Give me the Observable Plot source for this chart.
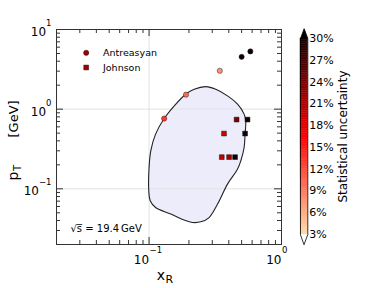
<!DOCTYPE html>
<html><head><meta charset="utf-8">
<script src="https://cdn.jsdelivr.net/npm/d3@7"></script>
<script src="https://cdn.jsdelivr.net/npm/@observablehq/plot@0.6"></script>
<style>
html,body{margin:0;padding:0;background:#fff;}
#chart{position:relative;width:374px;height:288px;font-family:"DejaVu Sans",sans-serif;}
#chart svg{position:absolute;top:0;}
</style></head><body><div id="chart"></div>
<script>
// ---- data ----
const antreasyanX   = [0.130, 0.190, 0.342, 0.500, 0.582];
const antreasyanPt  = [0.762, 1.52, 3.03, 4.54, 5.31];
const antreasyanUnc = [13, 10, 7.5, 33, 33];

const johnsonX   = [0.458, 0.554, 0.368, 0.531, 0.354, 0.402, 0.446];
const johnsonPt  = [0.740, 0.740, 0.494, 0.494, 0.250, 0.250, 0.250];
const johnsonUnc = [24, 33, 19, 33, 20, 21.5, 33];

const contourX = [0.268,0.319,0.391,0.466,0.522,0.537,0.531,0.522,0.493,0.466,0.391,0.329,0.284,0.246,0.213,0.184,0.146,0.112,0.102,0.0995,0.100,0.103,0.112,0.130,0.155,0.189,0.219];
const contourY = [1.92,1.78,1.47,1.155,0.866,0.713,0.486,0.330,0.225,0.177,0.1146,0.0643,0.0436,0.0385,0.0378,0.0405,0.0482,0.0582,0.0707,0.0944,0.185,0.300,0.486,0.762,1.10,1.54,1.78];

const xMajor = [0.1, 1];
const xMinor = [0.02,0.03,0.04,0.05,0.06,0.07,0.08,0.09,0.2,0.3,0.4,0.5,0.6,0.7,0.8,0.9];
const yMajor = [0.1, 1, 10];
const yMinor = [0.02,0.03,0.04,0.05,0.06,0.07,0.08,0.09,0.2,0.3,0.4,0.5,0.6,0.7,0.8,0.9,2,3,4,5,6,7,8,9];
const xTickExp = ["\u22121", "0"];
const yTickExp = ["\u22121", "0", "1"];
const cbTicks = [3,6,9,12,15,18,21,24,27,30];
const legendLabels = ["Antreasyan", "Johnson"];
const energyLabel = "\u221As\u0305 = 19.4\u2009GeV";

// ---- layout ----
const W = 374, H = 288, mL = 56, mR = 93, mT = 29, mB = 44;
const innerW = W - mL - mR, innerH = H - mT - mB;
const colorDef = {type: "linear", domain: [3, 16.5, 30], range: ["#fedcaa", "#ff0000", "#120000"], interpolate: "rgb", clamp: true};

const antreasyan = antreasyanX.map((x, i) => ({x, y: antreasyanPt[i], u: antreasyanUnc[i]}));
const johnson = johnsonX.map((x, i) => ({x, y: johnsonPt[i], u: johnsonUnc[i]}));
const contour = contourX.map((x, i) => ({x, y: contourY[i]}));

const cw = {"\u2212": 0.838, "0": 0.636, "1": 0.636};
const expW = s => [...s].reduce((a, c) => a + (cw[c] || 0.636), 0) * 8.5;

const tickMarks = [];
for (const [vals, len] of [[xMajor, 7], [xMinor, 4]]) {
  tickMarks.push(Plot.tickX(vals, {x: d => d, insetTop: innerH - len, stroke: "#333"}));
  tickMarks.push(Plot.tickX(vals, {x: d => d, insetBottom: innerH - len, stroke: "#333"}));
}
for (const [vals, len] of [[yMajor, 7], [yMinor, 4]]) {
  tickMarks.push(Plot.tickY(vals, {y: d => d, insetRight: innerW - len, stroke: "#333"}));
  tickMarks.push(Plot.tickY(vals, {y: d => d, insetLeft: innerW - len, stroke: "#333"}));
}

const labelMarks = [];
xMajor.forEach((v, i) => {
  labelMarks.push(Plot.text([v], {x: d => d, frameAnchor: "bottom", text: () => "10", textAnchor: "end", lineAnchor: "bottom", dy: 19.5, fontSize: 12}));
  labelMarks.push(Plot.text([v], {x: d => d, frameAnchor: "bottom", text: () => xTickExp[i], textAnchor: "start", lineAnchor: "bottom", dx: 0.5, dy: 8, fontSize: 8.5}));
});
yMajor.forEach((v, i) => {
  const e = yTickExp[i];
  labelMarks.push(Plot.text([v], {y: d => d, frameAnchor: "left", text: () => "10", textAnchor: "end", lineAnchor: "bottom", dx: -5 - expW(e), dy: 6.5, fontSize: 12}));
  labelMarks.push(Plot.text([v], {y: d => d, frameAnchor: "left", text: () => e, textAnchor: "end", lineAnchor: "bottom", dx: -5, dy: -3.5, fontSize: 8.5}));
});

const main = Plot.plot({
  width: W, height: H,
  marginLeft: mL, marginRight: mR, marginTop: mT, marginBottom: mB,
  x: {type: "log", domain: [0.02, 1], axis: null},
  y: {type: "log", domain: [0.02, 10], axis: null},
  color: colorDef,
  style: {fontFamily: "'DejaVu Sans', sans-serif", fontSize: "12px", background: "#fff", color: "#000"},
  marks: [
    Plot.line(contour, {x: "x", y: "y", curve: "catmull-rom-closed", fill: "#ececfb", stroke: "none"}),
    Plot.ruleX([0.1], {stroke: "#e2e2e2"}),
    Plot.ruleY([0.1, 1], {stroke: "#e2e2e2"}),
    Plot.line(contour, {x: "x", y: "y", curve: "catmull-rom-closed", fill: "none", stroke: "#222", strokeWidth: 1.1}),
    Plot.frame({stroke: "#333"}),
    ...tickMarks,
    ...labelMarks,
    Plot.dot(johnson, {x: "x", y: "y", fill: "u", symbol: "square", r: 2.7, stroke: "#111", strokeWidth: 0.5}),
    Plot.dot(antreasyan, {x: "x", y: "y", fill: "u", r: 2.6, stroke: "#222", strokeWidth: 0.5}),
    // legend
    Plot.dot([legendLabels[0]], {frameAnchor: "top-left", dx: 29.7, dy: 23.3, r: 2.6, fill: "#a00000", stroke: "#200", strokeWidth: 0.5}),
    Plot.dot([legendLabels[1]], {frameAnchor: "top-left", dx: 29.7, dy: 38, r: 2.7, symbol: "square", fill: "#a00000", stroke: "#200", strokeWidth: 0.5}),
    Plot.text([legendLabels[0]], {frameAnchor: "top-left", text: d => d, dx: 46.5, dy: 23.3, textAnchor: "start", lineAnchor: "middle", fontSize: 9.5}),
    Plot.text([legendLabels[1]], {frameAnchor: "top-left", text: d => d, dx: 46.5, dy: 38, textAnchor: "start", lineAnchor: "middle", fontSize: 9.5}),
    // annotation
    Plot.text([energyLabel], {frameAnchor: "bottom-left", text: d => d, dx: 14, dy: -13, textAnchor: "start", lineAnchor: "bottom", fontSize: 10}),
    // axis labels
    Plot.text(["x"], {frameAnchor: "bottom", text: d => d, dx: -4, dy: 35, textAnchor: "end", lineAnchor: "bottom", fontSize: 14}),
    Plot.text(["R"], {frameAnchor: "bottom", text: d => d, dx: -3.5, dy: 38, textAnchor: "start", lineAnchor: "bottom", fontSize: 11}),
    Plot.text(["p"], {frameAnchor: "left", text: d => d, rotate: -90, dx: -39, dy: 43.5, textAnchor: "start", lineAnchor: "bottom", fontSize: 14}),
    Plot.text(["T"], {frameAnchor: "left", text: d => d, rotate: -90, dx: -36, dy: 34, textAnchor: "start", lineAnchor: "bottom", fontSize: 10}),
    Plot.text(["[GeV]"], {frameAnchor: "left", text: d => d, rotate: -90, dx: -39, dy: 0.5, textAnchor: "start", lineAnchor: "bottom", fontSize: 13})
  ]
});

// ---- colorbar ----
const cbLo = cbTicks[0], cbHi = cbTicks[cbTicks.length - 1];
const ext = (cbHi - cbLo) * 0.05;
const step = 0.25;
const bands = d3.range(cbLo, cbHi, step);
const topTri = [[0, cbHi], [0.5, cbHi + ext], [1, cbHi]];
const botTri = [[0, cbLo], [0.5, cbLo - ext], [1, cbLo]];
const outline = [[0, cbLo], [0, cbHi], [0.5, cbHi + ext], [1, cbHi], [1, cbLo], [0.5, cbLo - ext]];

const cb = Plot.plot({
  width: 84, height: H,
  marginLeft: 10, marginRight: 66.7, marginTop: 38, marginBottom: 54,
  x: {domain: [0, 1], axis: null},
  y: {domain: [cbLo, cbHi], axis: null},
  color: colorDef,
  style: {fontFamily: "'DejaVu Sans', sans-serif", background: "transparent", color: "#000", overflow: "visible"},
  marks: [
    Plot.rect(bands, {x1: 0, x2: 1, y1: d => d, y2: d => d + step, fill: d => d + step / 2, stroke: d => d + step / 2, strokeWidth: 0.4}),
    Plot.line(topTri, {x: d => d[0], y: d => d[1], curve: "linear-closed", fill: "#000", stroke: "none"}),
    Plot.line(botTri, {x: d => d[0], y: d => d[1], curve: "linear-closed", fill: "#fff", stroke: "none"}),
    Plot.line(outline, {x: d => d[0], y: d => d[1], curve: "linear-closed", fill: "none", stroke: "#000", strokeWidth: 0.8}),
    Plot.text(cbTicks, {x: 1, y: d => d, text: d => d + "%", textAnchor: "start", lineAnchor: "middle", dx: 1.5, fontSize: 11}),
    Plot.text(["Statistical uncertainty"], {frameAnchor: "right", text: d => d, rotate: -90, dx: 39.5, textAnchor: "middle", lineAnchor: "bottom", fontSize: 12})
  ]
});

const chart = document.getElementById("chart");
main.style.left = "0px";
cb.style.left = "290px";
chart.appendChild(main);
chart.appendChild(cb);
</script>
</body></html>
